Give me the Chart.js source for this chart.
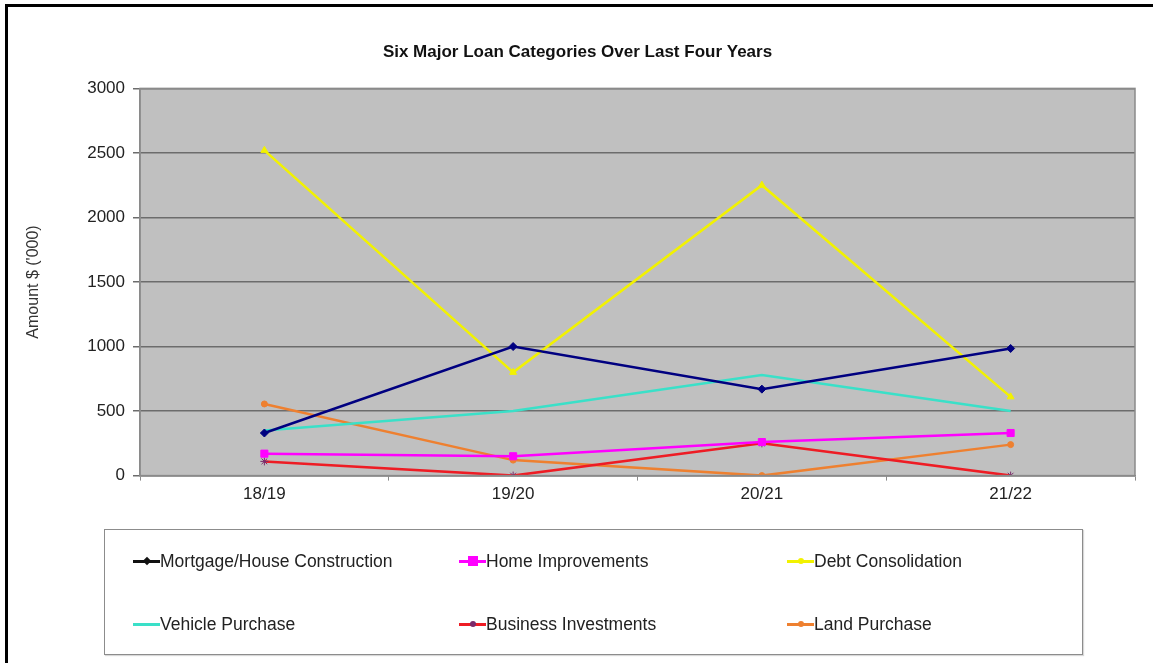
<!DOCTYPE html>
<html>
<head>
<meta charset="utf-8">
<script src="https://cdn.jsdelivr.net/npm/chart.js@4"></script>
<style>
  html, body { margin: 0; padding: 0; background: #fff; }
  #page { position: relative; width: 1153px; height: 663px; overflow: hidden; font-family: "Liberation Sans", Arial, sans-serif; }
  #frame { position: absolute; left: 5px; top: 4px; width: 1160px; height: 680px; border-left: 3px solid #000; border-top: 3px solid #000; }
  #chart-wrap { position: absolute; left: 0; top: 0; width: 1153px; height: 663px; }
  #legend { position: absolute; left: 104px; top: 529px; width: 977px; height: 124px; border: 1px solid #8c8c8c; box-shadow: 1px 1px 1px #d8d8d8; background: #fff; }
  .item { position: absolute; height: 24px; display: flex; align-items: center; font-size: 17.5px; color: #222; white-space: nowrap; }
  .sym { position: relative; width: 27px; height: 24px; flex: none; }
  .sym .ln { position: absolute; left: 0; right: 0; top: 11px; height: 2.5px; }
  .sym .mk { position: absolute; left: 50%; top: 12px; transform: translate(-50%, -50%); }
</style>
</head>
<body>
<div id="page">
  <div id="frame"></div>
  <div id="chart-wrap"><canvas id="loanChart" width="1153" height="663"></canvas></div>
  <div id="legend"></div>
</div>
<script>
// --- 資料 ---
const years = ['18/19', '19/20', '20/21', '21/22'];
const mortgage = [330, 1000, 670, 985];
const homeImprovements = [170, 150, 260, 330];
const debtConsolidation = [2520, 800, 2250, 610];
const vehiclePurchase = [350, 500, 780, 500];
const businessInvestments = [110, 0, 250, 0];
const landPurchase = [555, 120, 0, 240];

const yTicksMax = 3000;
const yTicksStep = 500;

// 系列設定 (名稱, 資料, 顏色, 標記)
const SERIES = [
    { name: 'Mortgage/House Construction', data: mortgage, color: '#000080', legendColor: '#111', point: 'rectRot', radius: 4, pointColor: '#000080' },
    { name: 'Home Improvements', data: homeImprovements, color: '#ff00ff', point: 'rect', radius: 5, pointColor: '#ff00ff' },
    { name: 'Debt Consolidation', data: debtConsolidation, color: '#f2f200', point: 'triangle', radius: 4, pointColor: '#f2f200' },
    { name: 'Vehicle Purchase', data: vehiclePurchase, color: '#3ae0c8', point: 'circle', radius: 0, pointColor: '#3ae0c8' },
    { name: 'Business Investments', data: businessInvestments, color: '#ee1c24', point: 'star', radius: 4, pointColor: '#7a2a6a' },
    { name: 'Land Purchase', data: landPurchase, color: '#ee8030', point: 'circle', radius: 3, pointColor: '#ee8030' }
];

// 繪圖區灰底與外框
const plotArea = {
    id: 'plotArea',
    beforeDraw(chart) {
        const { ctx, chartArea: a } = chart;
        ctx.save();
        ctx.fillStyle = '#c0c0c0';
        ctx.fillRect(a.left, a.top, a.right - a.left, a.bottom - a.top);
        ctx.restore();
    },
    afterDatasetsDraw(chart) {
        const { ctx, chartArea: a } = chart;
        ctx.save();
        ctx.strokeStyle = '#8a8a8a';
        ctx.lineWidth = 1.5;
        ctx.strokeRect(a.left, a.top, a.right - a.left, a.bottom - a.top);
        ctx.restore();
    }
};

const ctx = document.getElementById('loanChart').getContext('2d');
const loanChart = new Chart(ctx, {
    type: 'line',
    data: {
        labels: years,
        datasets: SERIES.map(s => ({
            label: s.name,
            data: s.data,
            borderColor: s.color,
            backgroundColor: s.pointColor,
            borderWidth: 2.5,
            tension: 0,
            pointStyle: s.point,
            pointRadius: s.radius,
            pointBackgroundColor: s.pointColor,
            pointBorderColor: s.pointColor,
            pointBorderWidth: 1
        }))
    },
    options: {
        responsive: false,
        animation: false,
        layout: { padding: { left: 20, right: 18, top: 0, bottom: 154 } },
        plugins: {
            legend: { display: false },
            tooltip: { enabled: false },
            title: {
                display: true,
                text: 'Six Major Loan Categories Over Last Four Years',
                color: '#111',
                font: { family: '"Liberation Sans", Arial', size: 17, weight: 'bold' },
                padding: { top: 42, bottom: 26 }
            }
        },
        scales: {
            x: {
                offset: true,
                grid: { display: true, offset: true, drawOnChartArea: false, color: '#8a8a8a', tickLength: 5 },
                border: { display: true, color: '#8a8a8a', width: 1.5 },
                ticks: { color: '#222', padding: 4, font: { family: '"Liberation Sans", Arial', size: 17 } }
            },
            y: {
                min: 0,
                max: yTicksMax,
                afterFit: scale => { scale.width = 120; },
                ticks: {
                    stepSize: yTicksStep,
                    color: '#222',
                    padding: 8,
                    font: { family: '"Liberation Sans", Arial', size: 17 },
                    callback: v => String(v)
                },
                grid: { color: '#6c6c6c', lineWidth: 1.5, tickLength: 7 },
                border: { display: true, color: '#8a8a8a', width: 1.5 },
                title: {
                    display: true,
                    text: "Amount $ ('000)",
                    color: '#333',
                    padding: { top: 4, bottom: 0 },
                    font: { family: '"Liberation Sans", Arial', size: 16 }
                }
            }
        }
    },
    plugins: [plotArea]
});

// --- HTML 圖例 (3 欄 x 2 列) ---
const legendEl = document.getElementById('legend');
const colX = [28, 354, 682];
const rowY = [19, 82];
SERIES.forEach((s, i) => {
    const item = document.createElement('div');
    item.className = 'item';
    item.style.left = colX[i % 3] + 'px';
    item.style.top = rowY[Math.floor(i / 3)] + 'px';
    const lineColor = s.legendColor || s.color;
    let mk = '';
    if (s.point === 'rect') {
        mk = `<div class="mk" style="width:10px;height:10px;background:${s.pointColor}"></div>`;
    } else if (s.point === 'rectRot') {
        mk = `<div class="mk" style="width:6px;height:6px;background:${lineColor};transform:translate(-50%,-50%) rotate(45deg)"></div>`;
    } else if (s.radius > 0) {
        mk = `<div class="mk" style="width:6px;height:6px;border-radius:50%;background:${s.pointColor}"></div>`;
    }
    item.innerHTML = `<span class="sym"><span class="ln" style="background:${lineColor}"></span>${mk}</span><span>${s.name}</span>`;
    legendEl.appendChild(item);
});
</script>
</body>
</html>
